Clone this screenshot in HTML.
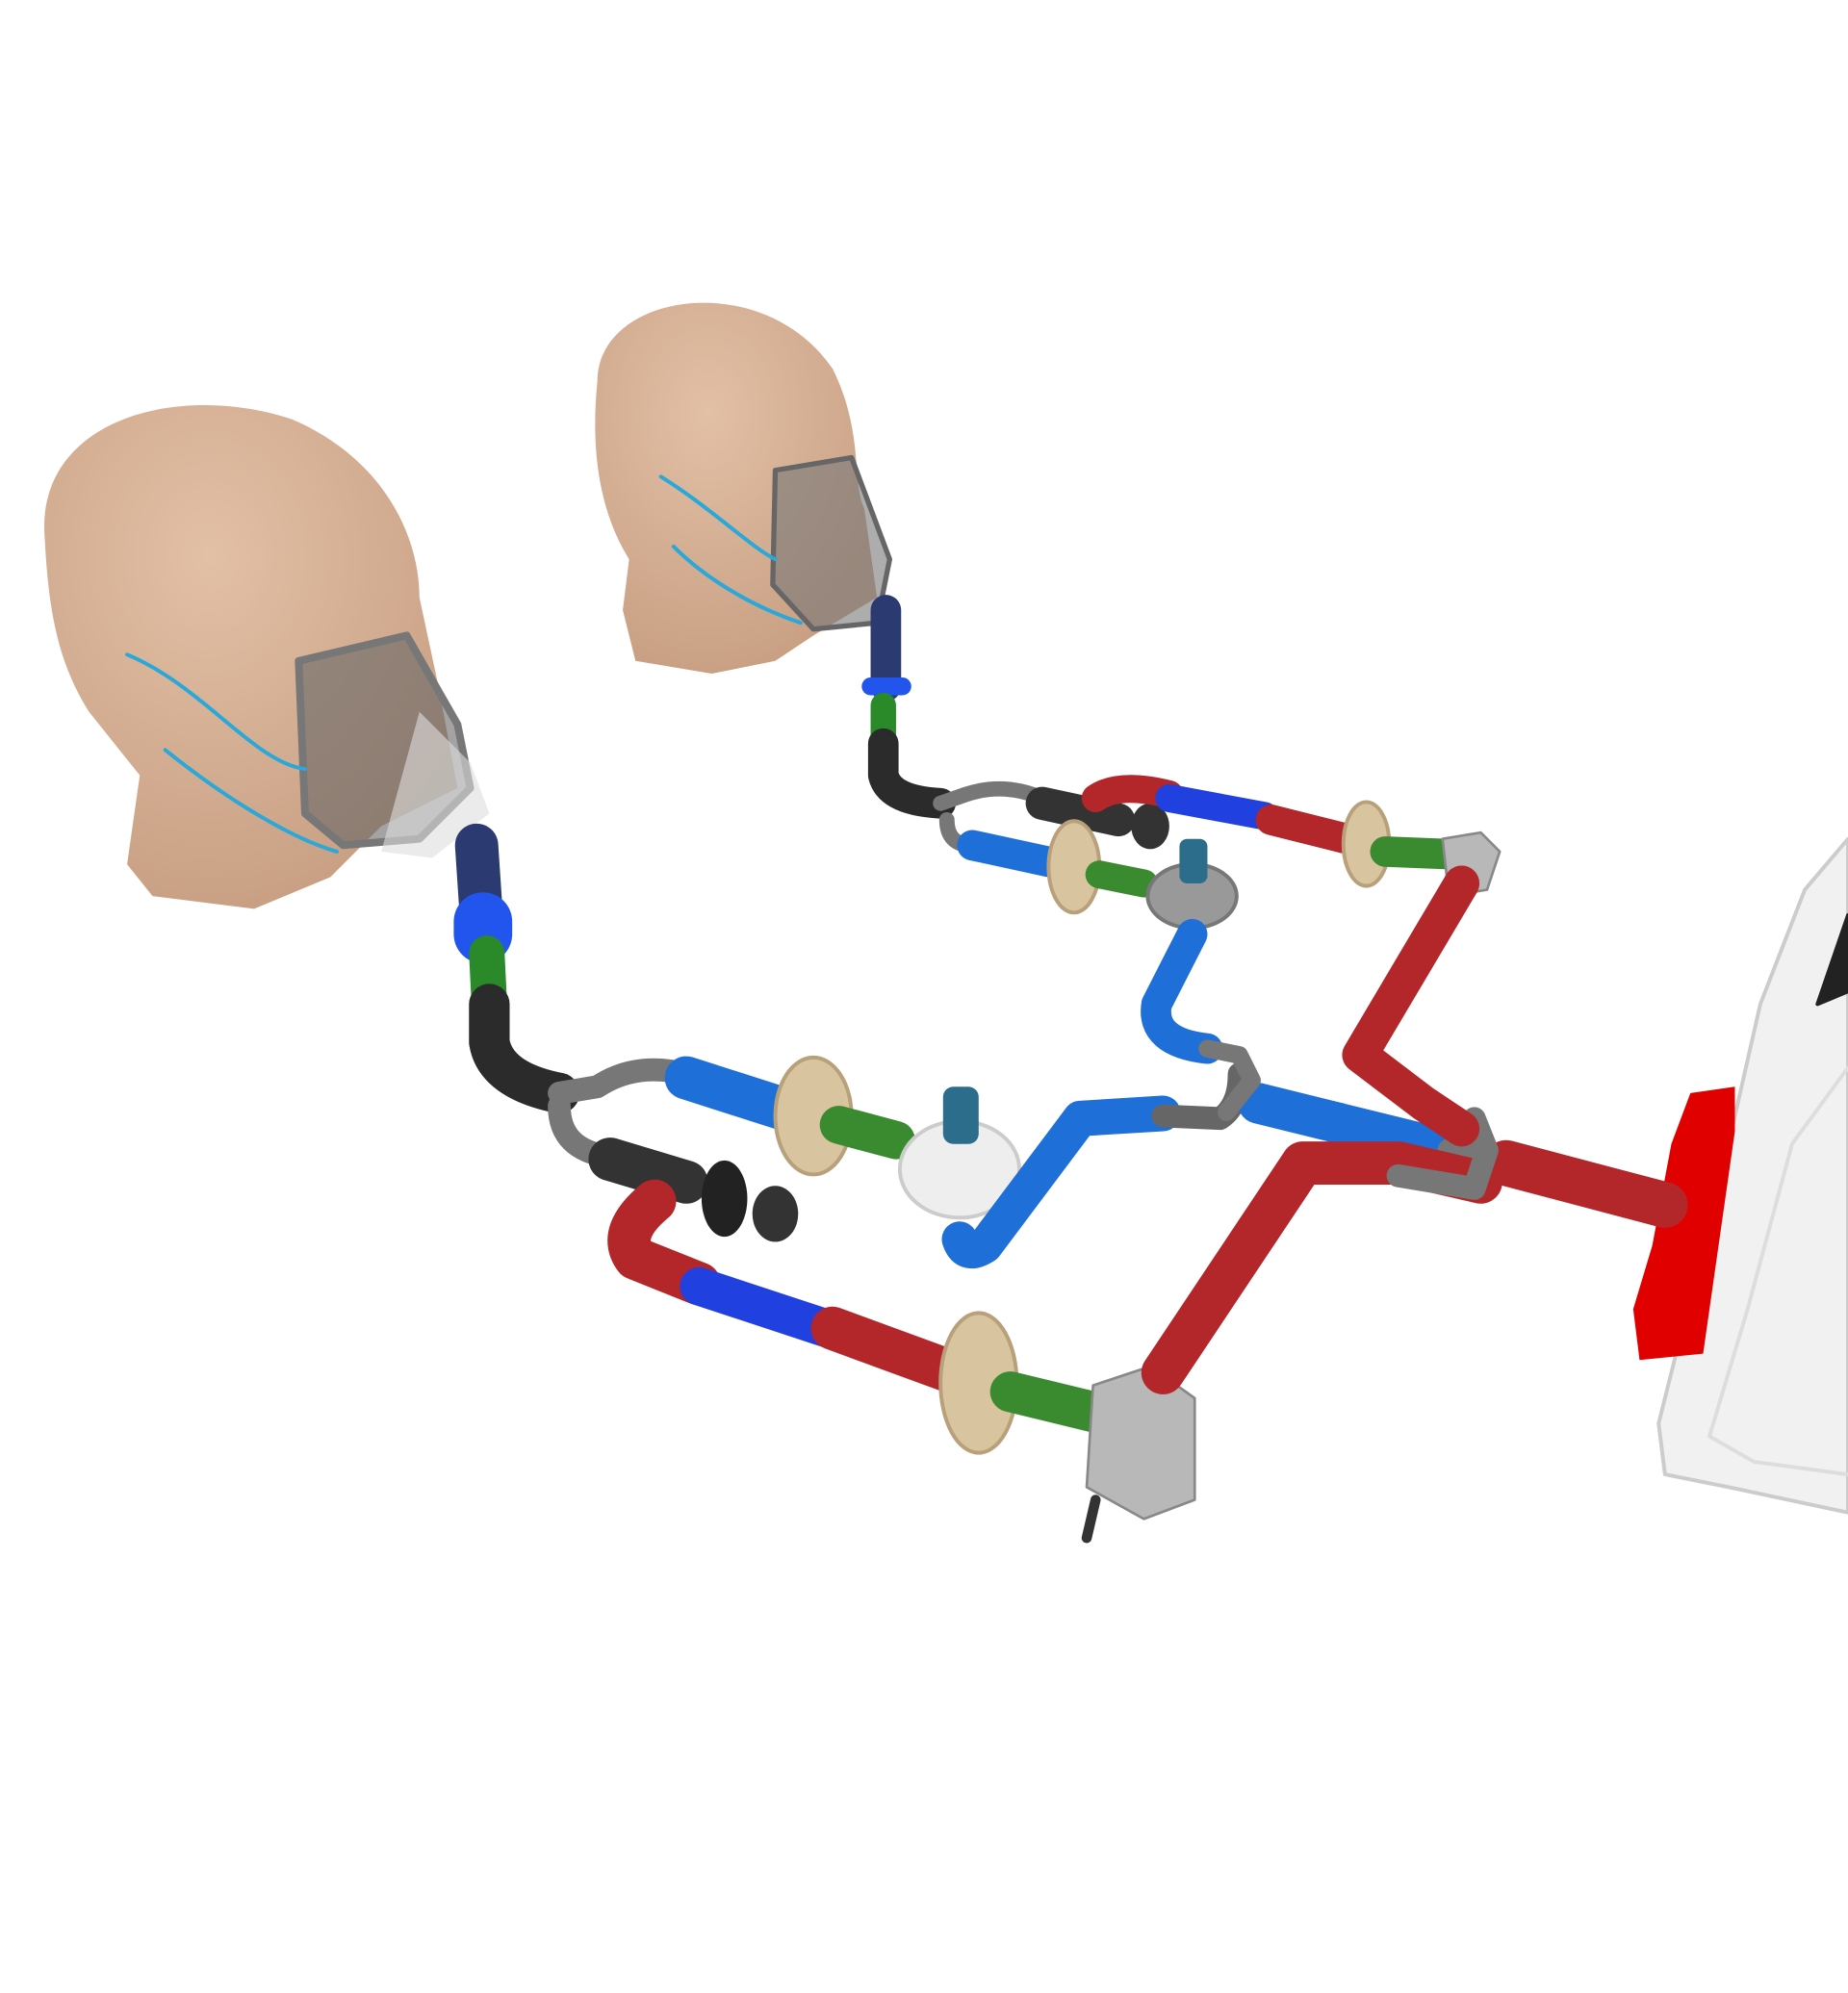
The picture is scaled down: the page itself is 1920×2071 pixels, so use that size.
<!DOCTYPE html>
<html><head><meta charset="utf-8"><style>html,body{margin:0;padding:0;background:#fff;}svg{display:block}</style></head>
<body>
<svg width="1920" height="2071" viewBox="0 0 1454 1568" preserveAspectRatio="none" xmlns="http://www.w3.org/2000/svg">
<defs>
<radialGradient id="skin" cx="40%" cy="30%" r="70%"><stop offset="0" stop-color="#e2c0a6"/><stop offset="1" stop-color="#c9a084"/></radialGradient>
</defs>
<g fill="none" stroke-linecap="round" stroke-linejoin="round">
<path d="M1454 660 L1420 700 L1385 790 L1360 900 L1330 1020 L1305 1120 L1310 1160 L1360 1170 L1454 1190 Z" fill="#f1f1f1" stroke="#ccc" stroke-width="3"/>
<path d="M1454 720 L1430 790 L1454 780" fill="#222" stroke="#222" stroke-width="3"/>
<path d="M1454 840 L1410 900 L1375 1030 L1345 1130 L1380 1150 L1454 1160" stroke="#ddd" stroke-width="3"/>
<path d="M1330 860 L1365 855 L1365 890 L1355 960 L1340 1065 L1290 1070 L1285 1030 L1300 980 L1315 900 Z" fill="#e00000"/>
<path d="M470 300 C470 230 600 210 655 290 C680 340 670 380 680 400 L690 470 L640 500 L610 520 L560 530 L500 520 L490 480 L495 440 C470 400 465 350 470 300 Z" fill="url(#skin)"/>
<path d="M610 370 L670 360 L700 440 L690 490 L640 495 L608 460 Z" fill="#777" fill-opacity="0.6" stroke="#666" stroke-width="4"/>
<path d="M520 375 C560 400 590 430 610 440 M530 430 C560 460 600 480 630 490" stroke="#2aa8d8" stroke-width="3"/>
<path d="M35 420 C30 330 140 300 230 330 C300 360 330 420 330 470 L345 540 L360 620 L300 650 L260 690 L200 715 L120 705 L100 680 L110 610 L70 560 C45 520 38 480 35 420 Z" fill="url(#skin)"/>
<path d="M235 520 L320 500 L360 570 L370 620 L330 660 L270 665 L240 640 Z" fill="#666" fill-opacity="0.6" stroke="#777" stroke-width="6"/>
<path d="M330 560 L370 600 L385 640 L340 675 L300 670" fill="#ddd" fill-opacity="0.6"/>
<path d="M100 515 C160 540 200 600 240 605 M130 590 C180 630 230 660 265 670" stroke="#2aa8d8" stroke-width="3"/>
<path d="M375 665 L380 740" stroke="#2b3a70" stroke-width="34"/>
<path d="M380 725 L380 735" stroke="#2255ee" stroke-width="46"/>
<path d="M383 750 L385 790" stroke="#2a8a2a" stroke-width="28"/>
<path d="M385 790 L385 820 Q390 850 440 860" stroke="#2b2b2b" stroke-width="32"/>
<path d="M440 860 L470 855 Q500 835 540 845 M440 870 Q440 905 480 910" stroke="#777" stroke-width="18"/>
<path d="M540 848 L615 872" stroke="#1f6fd8" stroke-width="34"/>
<ellipse cx="640" cy="878" rx="30" ry="46" fill="#d9c4a0" stroke="#b8a07a" stroke-width="3"/>
<path d="M660 885 L705 897" stroke="#3a8a30" stroke-width="30"/>
<ellipse cx="755" cy="920" rx="47" ry="38" fill="#eee" stroke="#ccc" stroke-width="3"/>
<rect x="742" y="855" width="28" height="45" rx="8" fill="#2c6d8c"/>
<path d="M755 975 Q760 990 775 980 L850 880 L915 876" stroke="#1f6fd8" stroke-width="28"/>
<path d="M915 878 L960 880 Q975 870 975 845 M975 850 L985 860" stroke="#666" stroke-width="18"/>
<path d="M990 868 L1140 905" stroke="#1f6fd8" stroke-width="32"/>
<path d="M1140 905 L1185 912" stroke="#777" stroke-width="18"/>
<path d="M1185 915 L1310 948" stroke="#b3262a" stroke-width="36"/>
<path d="M480 912 L540 930" stroke="#333" stroke-width="34"/>
<ellipse cx="570" cy="943" rx="18" ry="30" fill="#222"/>
<ellipse cx="610" cy="955" rx="18" ry="22" fill="#333"/>
<path d="M515 945 Q485 970 500 990 L550 1010" stroke="#b3262a" stroke-width="34"/>
<path d="M550 1012 L650 1045" stroke="#2040e0" stroke-width="30"/>
<path d="M655 1045 L745 1078" stroke="#b3262a" stroke-width="34"/>
<ellipse cx="770" cy="1088" rx="30" ry="55" fill="#d9c4a0" stroke="#b8a07a" stroke-width="3"/>
<path d="M795 1095 L865 1112" stroke="#3a8a30" stroke-width="32"/>
<path d="M860 1090 L905 1075 L940 1100 L940 1180 L900 1195 L855 1170 Z" fill="#b8b8b8" stroke="#888" stroke-width="2"/>
<path d="M862 1180 L855 1210" stroke="#333" stroke-width="8"/>
<path d="M915 1080 L1025 915 L1100 915 L1165 930" stroke="#b3262a" stroke-width="34"/>
<path d="M1100 925 L1160 935 L1170 905 L1160 880" stroke="#777" stroke-width="18"/>
<path d="M697 480 L697 540" stroke="#2b3a70" stroke-width="24"/>
<path d="M685 540 L710 540" stroke="#2255ee" stroke-width="14"/>
<path d="M695 555 L695 585" stroke="#2a8a2a" stroke-width="20"/>
<path d="M695 585 L695 610 Q700 630 740 632" stroke="#2b2b2b" stroke-width="24"/>
<path d="M740 632 L760 625 Q790 615 820 628 M745 645 Q745 665 765 665" stroke="#777" stroke-width="12"/>
<path d="M820 632 L880 645" stroke="#333" stroke-width="26"/>
<ellipse cx="905" cy="650" rx="15" ry="18" fill="#333"/>
<path d="M862 628 Q880 615 920 625" stroke="#b3262a" stroke-width="22"/>
<path d="M920 628 L995 642" stroke="#2040e0" stroke-width="22"/>
<path d="M1000 645 L1060 660" stroke="#b3262a" stroke-width="24"/>
<ellipse cx="1075" cy="664" rx="18" ry="33" fill="#d9c4a0" stroke="#b8a07a" stroke-width="3"/>
<path d="M1090 670 L1140 672" stroke="#3a8a30" stroke-width="24"/>
<path d="M1135 660 L1165 655 L1180 670 L1170 700 L1140 705 Z" fill="#b8b8b8" stroke="#888" stroke-width="2"/>
<path d="M765 665 L825 678" stroke="#1f6fd8" stroke-width="24"/>
<ellipse cx="845" cy="682" rx="20" ry="36" fill="#d9c4a0" stroke="#b8a07a" stroke-width="3"/>
<path d="M865 688 L900 695" stroke="#3a8a30" stroke-width="22"/>
<ellipse cx="938" cy="705" rx="35" ry="25" fill="#999" stroke="#777" stroke-width="3"/>
<rect x="928" y="660" width="22" height="35" rx="6" fill="#2c6d8c"/>
<path d="M938 735 L910 790 Q905 820 950 825" stroke="#1f6fd8" stroke-width="24"/>
<path d="M950 825 L975 830 L985 850 L965 875" stroke="#777" stroke-width="14"/>
<path d="M1150 695 L1070 830 L1120 868 L1150 888" stroke="#b3262a" stroke-width="28"/>
</g>
</svg>
</body></html>
